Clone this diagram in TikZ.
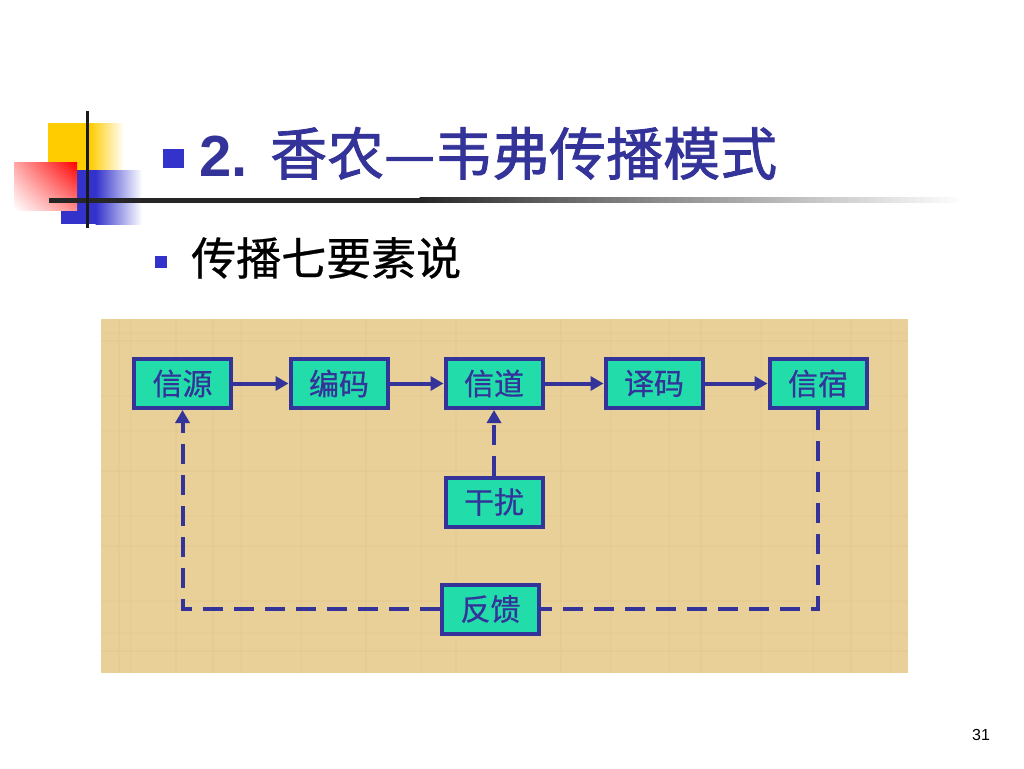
\documentclass[tikz,border=0pt]{standalone}
\usepackage{fontspec}
\setmainfont{Liberation Sans}
\newfontfamily\cjk{Noto Sans CJK SC}
\newfontfamily\cjkbold[FakeBold=1.4]{Noto Sans CJK SC}
\newfontfamily\cjkmed[FakeBold=0.6]{Noto Sans CJK SC}
\usetikzlibrary{arrows.meta,shadings}
\definecolor{navy}{HTML}{333399}
\definecolor{boxfill}{HTML}{22DDAA}
\definecolor{parch}{HTML}{E9CF98}
\definecolor{parchdark}{HTML}{D9B875}
\definecolor{decoyellow}{HTML}{FFCC00}
\definecolor{decoblue}{HTML}{3333CC}
\tikzset{
  stagebox/.style={draw=navy, line width=4pt, fill=boxfill, text=navy,
    minimum width=97pt, minimum height=49pt, inner sep=0pt,
    font=\cjkmed\fontsize{30}{30}\selectfont},
  flow/.style={draw=navy, line width=4pt, -{Triangle[length=13pt,width=14pt]}},
  fbline/.style={draw=navy, line width=4pt, dash pattern=on 20pt off 11pt},
  fbarrow/.style={fbline, -{Triangle[length=13pt,width=14pt]}},
}
\begin{document}
\begin{tikzpicture}[x=1pt,y=-1pt]
\useasboundingbox (0,0) rectangle (1024,768);
\fill[white] (0,0) rectangle (1024,768);
% decoration
\fill[decoyellow] (48,123) rectangle (90,170);
\shade[left color=decoyellow, right color=white] (89.5,123) rectangle (124,170);
\fill[decoblue] (61,170) rectangle (96,224);
\shade[left color=decoblue, right color=white] (95.5,170) rectangle (142,224);
\shade[upper right=red, upper left=red!35!white, lower right=red!45!white, lower left=white] (14,162) rectangle (77,210);
\fill[black!85] (49,197.5) rectangle (420,202.5);
\shade[left color=black!85, right color=black!60] (419.5,197.5) rectangle (560,202.5);
\shade[left color=black!60, right color=white] (559.5,197.5) rectangle (965,202.5);
\fill[black!90] (85.5,111) rectangle (88.5,228);
% title
\fill[decoblue] (163,149) rectangle (184,168);
\node[anchor=base west, inner sep=0pt, text=navy, font=\bfseries\fontsize{58}{58}\selectfont] (num) at (199,176) {2.};
\node[anchor=base west, inner sep=0pt, text=navy, font=\cjkbold\fontsize{57}{57}\selectfont] (title) at (270,175) {香农—韦弗传播模式};
% subtitle
\fill[decoblue] (155,256) rectangle (167,268);
\node[anchor=base west, inner sep=0pt, text=black, font=\cjkmed\fontsize{45}{45}\selectfont] (sub) at (191,275) {传播七要素说};
% parchment
\fill[parch] (101,319) rectangle (908,673);
\foreach \xx/\op in {118/0.15,130/0.12,175/0.1,212/0.15,240/0.12,300/0.1,365/0.15,420/0.1,455/0.12,560/0.15,610/0.1,668/0.12,700/0.15,760/0.1,812/0.12,850/0.15,890/0.1}
  \fill[parchdark, opacity=\op] (\xx,319) rectangle ++(2,354);
\foreach \yy/\op in {332/0.12,340/0.15,395/0.1,430/0.12,470/0.15,515/0.1,545/0.15,600/0.12,632/0.1,650/0.15}
  \fill[parchdark, opacity=\op] (101,\yy) rectangle ++(807,2);
% boxes
\node[stagebox] (xinyuan) at (182.5,383.5) {信源};
\node[stagebox] (bianma) at (339,383.5) {编码};
\node[stagebox] (xindao) at (494,383.5) {信道};
\node[stagebox] (yima) at (654,383.5) {译码};
\node[stagebox] (xinsu) at (818,383.5) {信宿};
\node[stagebox] (ganrao) at (494,502) {干扰};
\node[stagebox] (fankui) at (490.5,609) {反馈};
% connectors
\draw[flow] (xinyuan) -- (bianma);
\draw[flow] (bianma) -- (xindao);
\draw[flow] (xindao) -- (yima);
\draw[flow] (yima) -- (xinsu);
\draw[fbarrow] (ganrao.north) -- (xindao.south);
\draw[fbline] (xinsu.south) |- (fankui.east);
\draw[fbarrow] (fankui.west) -| (xinyuan.south);
% page number
\node[inner sep=0pt, font=\fontsize{16}{16}\selectfont] (page) at (981,735) {31};
\end{tikzpicture}
\end{document}
